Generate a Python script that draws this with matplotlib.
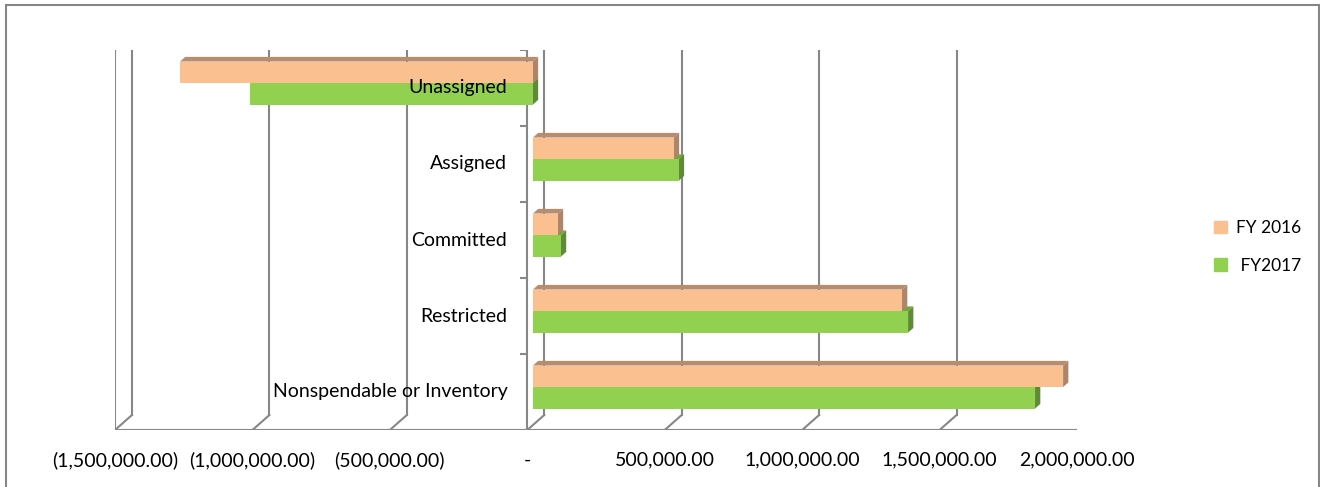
import matplotlib.pyplot as plt
from matplotlib.patches import Polygon, Patch, Rectangle

categories = ['Nonspendable or Inventory', 'Restricted', 'Committed', 'Assigned', 'Unassigned']
fy2016 = [1929000, 1343000, 91000, 513000, -1284000]
fy2017 = [1827000, 1365000, 102000, 531000, -1030000]
ticks = [-1500000, -1000000, -500000, 0, 500000, 1000000, 1500000, 2000000]
tick_labels = ['(1,500,000.00)', '(1,000,000.00)', '(500,000.00)', '-',
               '500,000.00', '1,000,000.00', '1,500,000.00', '2,000,000.00']

plt.rcParams['font.family'] = ['Lato', 'DejaVu Sans']

W, H = 1320, 487
fig = plt.figure(figsize=(W / 100, H / 100), dpi=100)

# front plane of the fake 3d box, in pixels
x0, x1, ytop, ybot = 115, 1077, 50, 430
ax = fig.add_axes([x0 / W, (H - ybot) / H, (x1 - x0) / W, (ybot - ytop) / H])
n = len(categories)
ax.set_xlim(ticks[0], ticks[-1])
ax.set_ylim(-0.5, n - 0.5)
ax.axis('off')

# data units per pixel
px_x = (ticks[-1] - ticks[0]) / (x1 - x0)
px_y = n / (ybot - ytop)
DX, DY = 17 * px_x, 15 * px_y   # box depth

grid_c = '#878787'
lw = 1.5

# back wall gridlines
for t in ticks:
    ax.plot([t + DX, t + DX], [-0.5 + DY, n - 0.5 + DY], color=grid_c, lw=lw, zorder=1)
# floor
ax.plot([ticks[0], ticks[-1]], [-0.5, -0.5], color=grid_c, lw=lw, zorder=1)
for t in ticks:
    ax.plot([t, t + DX], [-0.5, -0.5 + DY], color=grid_c, lw=lw, zorder=1)
    ax.plot([t, t], [-0.5, -0.5 - 6 * px_y], color=grid_c, lw=lw, zorder=1)
# left wall
ax.plot([ticks[0], ticks[0]], [-0.5, n - 0.5], color=grid_c, lw=lw, zorder=1)
ax.plot([ticks[0], ticks[0] + DX], [n - 0.5, n - 0.5 + DY], color=grid_c, lw=lw, zorder=1)
# category axis
ax.plot([0, 0], [-0.5, n - 0.5], color=grid_c, lw=lw, zorder=2)
for k in range(n + 1):
    ax.plot([0, -6 * px_x], [k - 0.5, k - 0.5], color=grid_c, lw=lw, zorder=2)

# bars
a, b = 0.33, 0.64
h = 0.283
series = [
    (fy2017, -1, '#92D050', '#74A640', '#5E8C32'),
    (fy2016, 0, '#FAC090', '#B88C6C', '#B08466'),
]
for vals, shift, front, top, side in series:
    for i, v in enumerate(vals):
        yl = i + a * DY + shift * h
        yh = yl + h
        lo = min(v, 0) + a * DX
        hi = max(v, 0) + a * DX
        dx, dy = (b - a) * DX, (b - a) * DY
        ax.add_patch(Polygon([(lo, yh), (hi, yh), (hi + dx, yh + dy), (lo + dx, yh + dy)],
                             closed=True, facecolor=top, edgecolor='none', zorder=3))
        ax.add_patch(Polygon([(hi, yl), (hi, yh), (hi + dx, yh + dy), (hi + dx, yl + dy)],
                             closed=True, facecolor=side, edgecolor='none', zorder=3))
        ax.barh(yl + h / 2, v, left=a * DX, height=h, color=front, zorder=3)

# labels
for i, c in enumerate(categories):
    ax.text(-20 * px_x, i, c, ha='right', va='center', fontsize=14, color='#000000', zorder=5)
for t, lab in zip(ticks, tick_labels):
    ax.text(t, -0.5 - 30 * px_y, lab, ha='center', va='center', fontsize=14, color='#000000')

# legend
fig.legend(handles=[Patch(color='#FAC090', label='FY 2016'),
                    Patch(color='#92D050', label=' FY2017')],
           loc='center left', bbox_to_anchor=(1198 / W, 1 - 247 / H), frameon=False,
           handlelength=0.75, handleheight=0.75, handletextpad=0.55, labelspacing=1.25,
           fontsize=12.5)

# chart border
fig.add_artist(Rectangle((5.5 / W, -0.1), (1319 - 5.5) / W, 1.1 - 4.5 / H,
                         transform=fig.transFigure, fill=False, edgecolor='#868686', lw=1.5))

fig.savefig('out.png', dpi=100)
